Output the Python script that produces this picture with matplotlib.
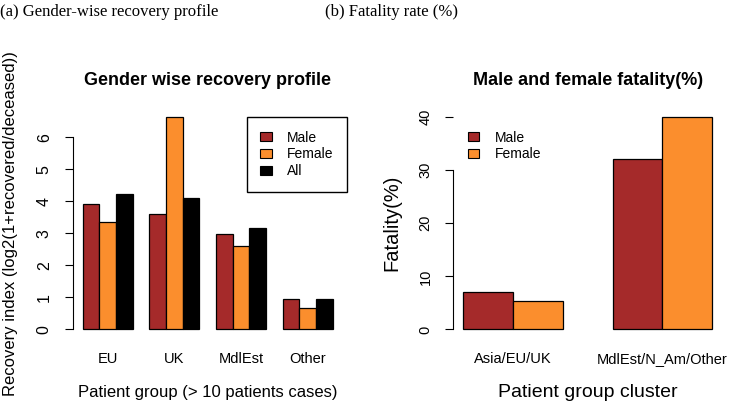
import matplotlib
matplotlib.use("Agg")
import matplotlib.pyplot as plt
import numpy as np

plt.rcParams["font.family"] = ["Liberation Sans", "DejaVu Sans"]

# (a) recovery index per patient group
groups = ["EU", "UK", "MdlEst", "Other"]
series_a = ["Male", "Female", "All"]
male_a = [3.90, 3.60, 2.98, 0.94]
female_a = [3.34, 6.64, 2.60, 0.68]
all_a = [4.24, 4.09, 3.16, 0.94]

# (b) fatality per cluster
clusters = ["Asia/EU/UK", "MdlEst/N_Am/Other"]
series_b = ["Male", "Female"]
male_b = [7.0, 32.0]
female_b = [5.4, 40.0]

yticks_a = [0, 1, 2, 3, 4, 5, 6]
yticks_b = [0, 10, 20, 30, 40]

BROWN = "#A52A2A"
ORANGE = "#FB8E2D"
colors = [BROWN, ORANGE, "black"]

W, H = 733, 405
fig = plt.figure(figsize=(W / 100, H / 100), dpi=100)


def px_axes(x0, x1, ytop, ybot):
    return fig.add_axes([x0 / W, (H - ybot) / H, (x1 - x0) / W, (ybot - ytop) / H])


def r_barplot(ax, data, names, n_per):
    # R barplot(beside=TRUE) layout: bar width 1, one bar of space between groups
    n_groups = len(names)
    starts = 1 + np.arange(n_groups) * (n_per + 1)
    for i, vals in enumerate(data):
        ax.bar(starts + i, vals, width=1, align="edge", color=colors[i],
               edgecolor="black", linewidth=0.9)
    span = starts[-1] + n_per - 1
    ax.set_xlim(1 - 0.04 * span, starts[-1] + n_per + 0.04 * span)
    ax.set_xticks(starts + n_per / 2)
    ax.set_xticklabels(names)
    for s in ["top", "right", "bottom"]:
        ax.spines[s].set_visible(False)
    ax.tick_params(axis="x", length=0, pad=10, labelsize=10.5)
    ax.tick_params(axis="y", length=6, width=0.8, labelrotation=90, pad=9)
    return starts


# ---- panel (a) ----
ax1 = px_axes(72.7, 342.7, 108.4, 338)
r_barplot(ax1, [male_a, female_a, all_a], groups, 3)
ax1.set_ylim(-0.27, 6.9)
ax1.set_yticks(yticks_a)
ax1.spines["left"].set_bounds(0, 6)
ax1.tick_params(axis="y", labelsize=11.5)
for lab in ax1.get_yticklabels():
    lab.set_va("center")
ax1.set_ylabel("Recovery index (log2(1+recovered/deceased))", fontsize=12, va="center", ha="center")
ax1.yaxis.set_label_coords(-0.232, 0.5)
ax1.text(0.5, -0.2395, "Patient group (> 10 patients cases)", transform=ax1.transAxes,
         ha="center", va="center", fontsize=12)
ax1.text(0.5, 1.1206, "Gender wise recovery profile", transform=ax1.transAxes,
         ha="center", va="center", fontsize=13, fontweight="bold")
h1 = [plt.Rectangle((0, 0), 1, 1, facecolor=c, edgecolor="black", linewidth=0.8) for c in colors]
leg = ax1.legend(h1, series_a, loc="upper left", bbox_to_anchor=(0.644, 0.964), borderaxespad=0,
                 fontsize=10, frameon=True, fancybox=False, edgecolor="black", framealpha=1,
                 borderpad=1.0, handlelength=0.8, handleheight=0.6, handletextpad=1.1,
                 labelspacing=0.2)
leg.get_frame().set_linewidth(1.0)

# ---- panel (b) ----
ax2 = px_axes(453.3, 722.1, 108.4, 338)
r_barplot(ax2, [male_b, female_b], clusters, 2)
ax2.set_ylim(-1.6, 41.6)
ax2.set_yticks(yticks_b)
ax2.spines["left"].set_bounds(0, 30)
ax2.tick_params(axis="y", labelsize=10.5)
for lab in ax2.get_yticklabels():
    lab.set_va("center")
ax2.set_ylabel("Fatality(%)", fontsize=14.5, va="center", ha="center")
ax2.yaxis.set_label_coords(-0.229, 0.5)
ax2.text(0.5, -0.2395, "Patient group cluster", transform=ax2.transAxes,
         ha="center", va="center", fontsize=14)
ax2.text(0.5, 1.1206, "Male and female fatality(%)", transform=ax2.transAxes,
         ha="center", va="center", fontsize=13, fontweight="bold")
h2 = [plt.Rectangle((0, 0), 1, 1, facecolor=c, edgecolor="black", linewidth=0.8) for c in colors[:2]]
ax2.legend(h2, series_b, loc="upper left", bbox_to_anchor=(0.004, 0.964), borderaxespad=0,
           fontsize=10, frameon=False, borderpad=1.0, handlelength=0.8, handleheight=0.6,
           handletextpad=1.1, labelspacing=0.2)

# panel captions
serif = ["Liberation Serif", "DejaVu Serif"]
fig.text(0 / W, 1 - 12 / H, "(a) Gender-wise recovery profile", family=serif,
         fontsize=12, ha="left", va="center")
fig.text(325 / W, 1 - 12 / H, "(b) Fatality rate (%)", family=serif,
         fontsize=12, ha="left", va="center")

fig.savefig("out.png", dpi=100)
